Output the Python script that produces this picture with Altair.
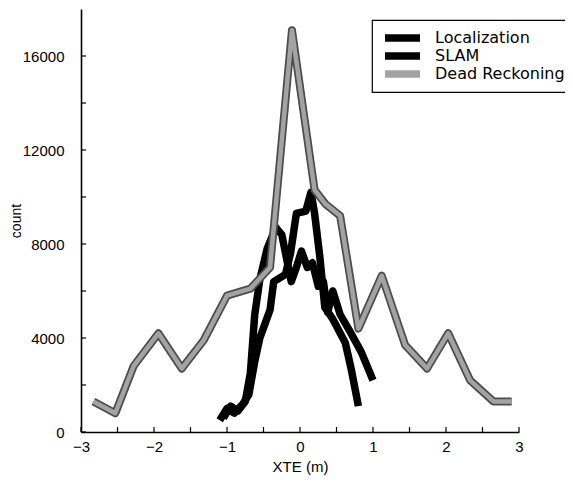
import altair as alt
import pandas as pd

# ---- data ----
loc_x = [-1.1, -1.0, -0.9, -0.78, -0.7, -0.62, -0.55, -0.48, -0.41, -0.36, -0.2, -0.13, -0.05, 0.08, 0.15, 0.2, 0.27, 0.34, 0.45, 0.62, 0.7, 0.8]
loc_y = [500, 1000, 800, 1200, 1600, 3000, 4000, 4600, 5200, 6400, 6700, 7600, 9300, 9400, 10200, 9300, 7500, 5300, 4800, 3800, 2700, 1100]

slam_x = [-1.05, -0.95, -0.85, -0.75, -0.68, -0.62, -0.55, -0.45, -0.33, -0.25, -0.12, -0.05, 0.02, 0.1, 0.17, 0.25, 0.32, 0.38, 0.45, 0.55, 0.68, 0.84, 1.0]
slam_y = [600, 1100, 900, 1300, 2500, 5000, 6500, 7800, 8700, 8400, 6400, 7000, 7700, 7000, 7200, 6200, 6400, 5100, 6000, 5000, 4300, 3400, 2200]

dr_x = [-2.83, -2.53, -2.28, -1.94, -1.62, -1.32, -1.0, -0.68, -0.41, -0.11, 0.2, 0.35, 0.55, 0.8, 1.12, 1.44, 1.74, 2.03, 2.33, 2.65, 2.9]
dr_y = [1300, 800, 2800, 4200, 2700, 3900, 5800, 6100, 7000, 17100, 10300, 9700, 9200, 4400, 6650, 3700, 2700, 4200, 2200, 1300, 1300]

series_names = ["Localization", "SLAM", "Dead Reckoning"]
series_colors = ["#000000", "#000000", "#a3a3a3"]

y_major = [0, 4000, 8000, 12000, 16000]
y_minor = [2000, 6000, 10000, 14000]
x_major = [-3, -2, -1, 0, 1, 2, 3]
x_minor = [-2.5, -1.5, -0.5, 0.5, 1.5, 2.5]

rows = []
for name, xs, ys in [("Localization", loc_x, loc_y), ("SLAM", slam_x, slam_y), ("Dead Reckoning", dr_x, dr_y)]:
    for i, (a, b) in enumerate(zip(xs, ys)):
        rows.append({"series": name, "x": a, "y": b, "i": i})
df = pd.DataFrame(rows)

xscale = alt.Scale(domain=[-3, 3], nice=False, zero=False)
yscale = alt.Scale(domain=[0, 18000], nice=False)
XT = "XTE (m)"
YT = "count"

axis_style = dict(
    ticks=False, tickSize=0, grid=False, labelFlush=False,
    domainColor="black", domainWidth=1.6,
    labelFont="Liberation Sans", labelFontSize=15, labelColor="black",
    titleFont="Liberation Sans", titleColor="black", titleFontWeight="normal",
    format="d",
)

xenc = alt.X("x:Q", scale=xscale, title=XT,
             axis=alt.Axis(values=x_major, labelPadding=7, titlePadding=5, titleFontSize=15, **axis_style))
yenc = alt.Y("y:Q", scale=yscale, title=YT,
             axis=alt.Axis(values=y_major, labelPadding=17, titlePadding=-1, titleFontSize=14, **axis_style))
color = alt.Color("series:N", scale=alt.Scale(domain=series_names, range=series_colors),
                  legend=alt.Legend(title=None))

base = alt.Chart(df)

black = base.transform_filter(alt.datum.series != "Dead Reckoning").mark_line(
    strokeWidth=7.5, strokeJoin="round", strokeCap="butt"
).encode(x=xenc, y=yenc, color=color, detail="series:N", order="i:Q")

gray_under = base.transform_filter(alt.datum.series == "Dead Reckoning").mark_line(
    strokeWidth=8, strokeJoin="round", color="#4d4d4d"
).encode(x=xenc, y=yenc, order="i:Q")

gray_top = base.transform_filter(alt.datum.series == "Dead Reckoning").mark_line(
    strokeWidth=4.5, strokeJoin="round"
).encode(x=xenc, y=yenc, color=color, order="i:Q")

# inward tick marks
yt = pd.DataFrame({"y": y_major + y_minor})
xt = pd.DataFrame({"x": x_major + x_minor})

ytick = alt.Chart(yt).mark_rule(color="black", strokeWidth=1.2).encode(
    y=alt.Y("y:Q", scale=yscale, title=YT), x=alt.value(0), x2=alt.value(5))
xtick = alt.Chart(xt).mark_rule(color="black", strokeWidth=1.2).encode(
    x=alt.X("x:Q", scale=xscale, title=XT), y=alt.value(423), y2=alt.value(418))

chart = alt.layer(black, gray_under, gray_top, ytick, xtick).properties(
    width=438, height=423,
    autosize=alt.AutoSizeParams(type="none"),
    padding={"left": 73, "top": 1, "right": 46, "bottom": 48},
).configure_view(stroke=None).configure_legend(
    orient="none", legendX=291, legendY=11,
    strokeColor="black", strokeWidth=1.2, fillColor="white", padding=9,
    symbolType="stroke", symbolSize=1225, symbolStrokeWidth=7.5, symbolOffset=0,
    labelFont="DejaVu Sans", labelFontSize=16, labelColor="black", labelOffset=11,
    labelLimit=300, rowPadding=0, clipHeight=18,
)

chart.save("out.html", embed_options={"renderer": "svg", "actions": False})
